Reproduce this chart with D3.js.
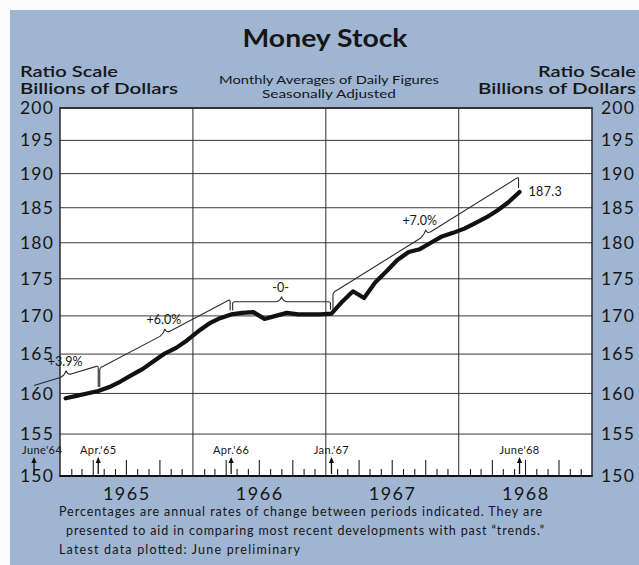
<!DOCTYPE html>
<html>
<head>
<meta charset="utf-8">
<script src="https://cdn.jsdelivr.net/npm/d3@7"></script>
<style>
  body { margin: 0; background: #fff; }
  svg { display: block; }
  text { font-family: Lato, "Noto Sans", sans-serif; fill: #161616; }
</style>
</head>
<body>
<svg id="chart" width="639" height="565"></svg>
<script>
// money stock, monthly averages, billions of dollars
const years = [1965, 1966, 1967, 1968]
const values1965 = [159.4, 159.7, 160.0, 160.3, 160.8, 161.5, 162.3, 163.1, 164.1, 165.1, 165.8, 166.8]
const values1966 = [168.0, 169.0, 169.7, 170.2, 170.4, 170.5, 169.6, 170.0, 170.4, 170.2, 170.2, 170.2]
const values1967 = [170.3, 171.9, 173.3, 172.4, 174.5, 176.0, 177.6, 178.7, 179.1, 180.0, 180.9, 181.4]
const values1968 = [182.0, 182.8, 183.6, 184.6, 185.8, 187.3]

const yTicks = [150, 155, 160, 165, 170, 175, 180, 185, 190, 195, 200]
const yearLabels = ['1965', '1966', '1967', '1968']

// arrows under the plot
const markerLabels = ["June'64", "Apr.'65", "Apr.'66", "Jan.'67", "June'68"]
const markerMonths = ['1964-06', '1965-04', '1966-04', '1967-01', '1968-06']

// trend brackets: periods, labels and the levels the bracket lines sit at
const trendLabels = ['+3.9%', '+6.0%', '-0-', '+7.0%']
const trendFrom = ['1964-06', '1965-04', '1966-04', '1967-01']
const trendTo = ['1965-04', '1966-04', '1967-01', '1968-06']
const trendStartLevel = [161.0, 163.2, 171.9, 173.1]
const trendEndLevel = [163.5, 172.2, 171.9, 189.5]

const lastLabel = '187.3'

const notes = [
  'Percentages are annual rates of change between periods indicated. They are',
  'presented to aid in comparing most recent developments with past \u201Ctrends.\u201D',
  'Latest data plotted: June preliminary'
]

// ---------------------------------------------------------------
const svg = d3.select('#chart')
const pLeft = 60, pRight = 592, pTop = 108, pBottom = 476

const x = d3.scaleTime()
  .domain([new Date(1965, 0, 1), new Date(1969, 0, 1)])
  .range([pLeft, pRight])
const y = d3.scaleLog().domain([150, 200]).range([pBottom, pTop])

const parseMonth = d3.timeParse('%Y-%m')
// middle of a month, June '64 lives in the margin left of the plot
const xMid = function (m) {
  const d = typeof m === 'string' ? parseMonth(m) : m
  if (d < x.domain()[0]) return pLeft - 26
  return (x(d) + x(d3.timeMonth.offset(d, 1))) / 2
}

let data = []
const allValues = [values1965, values1966, values1967, values1968]
years.forEach(function (yr, i) {
  allValues[i].forEach(function (v, m) {
    data.push({ date: new Date(yr, m, 1), value: v })
  })
})

const valueAt = function (m) {
  const d = parseMonth(m)
  const hit = data.find(e => +e.date === +d)
  return hit ? hit.value : null
}

// background
svg.append('rect').attr('x', 0).attr('y', 0).attr('width', 639).attr('height', 565).attr('fill', '#fbfbfb')
svg.append('rect').attr('x', 10).attr('y', 10).attr('width', 629).attr('height', 555).attr('fill', '#9fb5d2')

// plot area
svg.append('rect')
  .attr('x', pLeft).attr('y', pTop)
  .attr('width', pRight - pLeft).attr('height', pBottom - pTop)
  .attr('fill', '#ffffff')

// horizontal grid
svg.append('g')
  .selectAll('line')
  .data(yTicks.filter(d => d > 150 && d < 200))
  .enter()
  .append('line')
  .attr('x1', pLeft).attr('x2', pRight)
  .attr('y1', d => y(d)).attr('y2', d => y(d))
  .attr('stroke', '#3a3a3a')
  .attr('stroke-width', 1)

// year boundaries
svg.append('g')
  .selectAll('line')
  .data(years.slice(1))
  .enter()
  .append('line')
  .attr('x1', d => x(new Date(d, 0, 1))).attr('x2', d => x(new Date(d, 0, 1)))
  .attr('y1', pTop).attr('y2', pBottom)
  .attr('stroke', '#2a2a2a')
  .attr('stroke-width', 1)

// month ticks along the bottom, taller ones at the quarters
const monthStarts = d3.timeMonth.range(new Date(1965, 1, 1), new Date(1969, 0, 1))
  .filter(d => d.getMonth() !== 0)
const shortTicks = monthStarts.filter(d => d.getMonth() % 3 !== 0)
const tallTicks = monthStarts.filter(d => d.getMonth() % 3 === 0)

const tickAxis = function (vals, size) {
  const g = svg.append('g')
    .attr('transform', 'translate(0,' + pBottom + ')')
    .call(d3.axisTop(x).tickValues(vals).tickSize(size).tickFormat(''))
  g.select('.domain').remove()
  g.selectAll('line').attr('stroke', '#1e1e1e').attr('stroke-width', 1.1)
}
tickAxis(shortTicks, 7)
tickAxis(tallTicks, 16)

// frame
svg.append('rect')
  .attr('x', pLeft).attr('y', pTop)
  .attr('width', pRight - pLeft).attr('height', pBottom - pTop)
  .attr('fill', 'none')
  .attr('stroke', '#1e1e1e')
  .attr('stroke-width', 1.4)
svg.append('line')
  .attr('x1', pLeft - 0.5).attr('x2', pRight + 0.5)
  .attr('y1', pBottom).attr('y2', pBottom)
  .attr('stroke', '#111').attr('stroke-width', 2.2)
svg.append('line')
  .attr('x1', pLeft - 0.5).attr('x2', pRight + 0.5)
  .attr('y1', pTop).attr('y2', pTop)
  .attr('stroke', '#333').attr('stroke-width', 1.8)

// y axes, both sides
const yLeft = svg.append('g')
  .attr('transform', 'translate(' + pLeft + ',0)')
  .call(d3.axisLeft(y).tickValues(yTicks).tickFormat(d3.format('d')).tickSize(0).tickPadding(6))
const yRight = svg.append('g')
  .attr('transform', 'translate(' + pRight + ',0)')
  .call(d3.axisRight(y).tickValues(yTicks).tickFormat(d3.format('d')).tickSize(0).tickPadding(9))
;[yLeft, yRight].forEach(function (g) {
  g.select('.domain').remove()
  g.selectAll('text')
    .attr('font-family', 'Lato, "Noto Sans", sans-serif')
    .attr('font-size', 17.5)
    .attr('letter-spacing', 1.2)
    .attr('fill', '#161616')
})

// year labels under the axis
const yearAxis = svg.append('g')
  .attr('transform', 'translate(0,' + (pBottom + 8) + ')')
  .call(d3.axisBottom(x)
    .tickValues(years.map(d => new Date(d, 6, 2)))
    .tickFormat((d, i) => yearLabels[i])
    .tickSize(0))
yearAxis.select('.domain').remove()
yearAxis.selectAll('text')
  .attr('font-family', 'Lato, "Noto Sans", sans-serif')
  .attr('font-size', 18)
  .attr('letter-spacing', 1.5)
  .attr('fill', '#161616')

// arrows and their labels
const markers = svg.append('g')
markerMonths.forEach(function (m, i) {
  const mx = xMid(m)
  const base = pBottom - 2
  markers.append('line')
    .attr('x1', mx).attr('x2', mx)
    .attr('y1', base).attr('y2', base - 13)
    .attr('stroke', '#111').attr('stroke-width', 1.3)
  markers.append('path')
    .attr('d', 'M' + (mx - 2.6) + ',' + (base - 11) + 'L' + mx + ',' + (base - 17) + 'L' + (mx + 2.6) + ',' + (base - 11) + 'Z')
    .attr('fill', '#111')
  markers.append('text')
    .attr('x', i === 0 ? mx - 12 : mx)
    .attr('y', pBottom - 22)
    .attr('text-anchor', i === 0 ? 'start' : 'middle')
    .attr('font-size', 11)
    .attr('letter-spacing', 0.4)
    .text(markerLabels[i])
})

// trend brackets
const brackets = svg.append('g')
  .attr('fill', 'none')
  .attr('stroke', '#2a2a2a')
  .attr('stroke-width', 1.1)
trendLabels.forEach(function (lab, i) {
  const x1 = xMid(trendFrom[i]) + (i === 0 ? 0 : 1.5)
  const x2 = xMid(trendTo[i]) - (i === 0 ? 0 : 1)
  const y1 = y(trendStartLevel[i])
  const y2 = y(trendEndLevel[i])
  const xm = (x1 + x2) / 2
  const ym = (y1 + y2) / 2
  const slope = (y2 - y1) / (x2 - x1)
  const w = 5
  let d = ''
  const startData = valueAt(trendFrom[i])
  if (startData !== null && i > 0) {
    d += 'M' + x1 + ',' + (y(startData) - 4) + 'L' + x1 + ',' + (y1 + 2) +
      'Q' + x1 + ',' + y1 + ' ' + (x1 + 2) + ',' + (y1 + slope * 2)
  } else {
    d += 'M' + x1 + ',' + y1
  }
  d += 'L' + (xm - w) + ',' + (ym - slope * w) +
    'Q' + (xm - 1) + ',' + (ym - 1) + ' ' + xm + ',' + (ym - 5) +
    'Q' + (xm + 1) + ',' + (ym - 1) + ' ' + (xm + w) + ',' + (ym + slope * w)
  const endData = valueAt(trendTo[i])
  d += 'L' + (x2 - 2) + ',' + (y2 - slope * 2) +
    'Q' + x2 + ',' + y2 + ' ' + x2 + ',' + (y2 + 2) +
    'L' + x2 + ',' + (y(endData) - 4)
  brackets.append('path').attr('d', d)

  svg.append('text')
    .attr('x', i === 3 ? xm - 6 : xm - 1)
    .attr('y', ym - 10)
    .attr('text-anchor', 'middle')
    .attr('font-size', 12.5)
    .attr('fill', '#2a2a2a')
    .text(lab)
})

// the series
const line = d3.line()
  .x(d => xMid(d.date))
  .y(d => y(d.value))
  .curve(d3.curveLinear)
svg.append('path')
  .datum(data)
  .attr('d', line)
  .attr('fill', 'none')
  .attr('stroke', '#111')
  .attr('stroke-width', 4.2)
  .attr('stroke-linejoin', 'round')
  .attr('stroke-linecap', 'round')

const last = data[data.length - 1]
svg.append('text')
  .attr('x', xMid(last.date) + 9)
  .attr('y', y(last.value) + 4)
  .attr('font-size', 12.5)
  .attr('letter-spacing', 0.3)
  .text(lastLabel)

// titles
svg.append('text')
  .attr('x', 325).attr('y', 47)
  .attr('text-anchor', 'middle')
  .attr('font-size', 25)
  .attr('font-weight', 'bold')
  .attr('textLength', 165)
  .attr('lengthAdjust', 'spacingAndGlyphs')
  .text('Money Stock')

const headLeft = ['Ratio Scale', 'Billions of Dollars']
const headLen = [98, 158]
headLeft.forEach(function (t, i) {
  svg.append('text').attr('x', 20).attr('y', 77 + i * 17)
    .attr('font-size', 15.5).attr('font-weight', 600)
    .attr('textLength', headLen[i]).attr('lengthAdjust', 'spacingAndGlyphs').text(t)
  svg.append('text').attr('x', 636).attr('y', 77 + i * 17)
    .attr('text-anchor', 'end')
    .attr('font-size', 15.5).attr('font-weight', 600)
    .attr('textLength', headLen[i]).attr('lengthAdjust', 'spacingAndGlyphs').text(t)
})

const subtitle = ['Monthly Averages of Daily Figures', 'Seasonally Adjusted']
const subLen = [220, 134]
subtitle.forEach(function (t, i) {
  svg.append('text').attr('x', 329).attr('y', 84 + i * 14)
    .attr('text-anchor', 'middle')
    .attr('font-size', 11.5)
    .attr('textLength', subLen[i])
    .attr('lengthAdjust', 'spacingAndGlyphs')
    .text(t)
})

// footnotes
const noteX = [300.5, 305, 59]
const noteLen = [483, 478, 241]
notes.forEach(function (t, i) {
  svg.append('text')
    .attr('x', noteX[i])
    .attr('y', 516 + i * 19)
    .attr('text-anchor', i === 2 ? 'start' : 'middle')
    .attr('font-size', 12.5)
    .attr('textLength', noteLen[i])
    .text(t)
})
</script>
</body>
</html>
